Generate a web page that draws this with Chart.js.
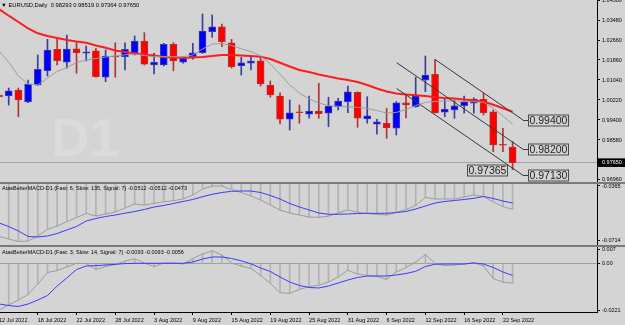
<!DOCTYPE html>
<html>
<head>
<meta charset="utf-8">
<script src="https://cdn.jsdelivr.net/npm/chart.js@4.4.0/dist/chart.umd.min.js"></script>
<style>
  html, body { margin: 0; padding: 0; background: #d4d4d4; }
  #wrap { position: relative; width: 625px; height: 325px; background: #d4d4d4; overflow: hidden; }
  #wrap canvas { position: absolute; left: 0; }
  .sep { position: absolute; left: 0; width: 625px; height: 2px; background: #7a7a7a; }
</style>
</head>
<body>
<div id="wrap">
  <canvas id="price" width="625" height="182" style="top:0"></canvas>
  <div class="sep" style="top:182px"></div>
  <canvas id="macdSlow" width="625" height="61" style="top:184px"></canvas>
  <div class="sep" style="top:245px"></div>
  <canvas id="macdFast" width="625" height="78" style="top:247px"></canvas>
</div>
<script>
// --- DATA (EURUSD daily) ---
const dates = ['12 Jul 2022','13 Jul 2022','14 Jul 2022','15 Jul 2022','18 Jul 2022','19 Jul 2022','20 Jul 2022','21 Jul 2022','22 Jul 2022',
  '25 Jul 2022','26 Jul 2022','27 Jul 2022','28 Jul 2022','29 Jul 2022','1 Aug 2022','2 Aug 2022','3 Aug 2022','4 Aug 2022','5 Aug 2022',
  '8 Aug 2022','9 Aug 2022','10 Aug 2022','11 Aug 2022','12 Aug 2022','15 Aug 2022','16 Aug 2022','17 Aug 2022','18 Aug 2022','19 Aug 2022',
  '22 Aug 2022','23 Aug 2022','24 Aug 2022','25 Aug 2022','26 Aug 2022','29 Aug 2022','30 Aug 2022','31 Aug 2022','1 Sep 2022','2 Sep 2022',
  '5 Sep 2022','6 Sep 2022','7 Sep 2022','8 Sep 2022','9 Sep 2022','12 Sep 2022','13 Sep 2022','14 Sep 2022','15 Sep 2022','16 Sep 2022',
  '19 Sep 2022','20 Sep 2022','21 Sep 2022','22 Sep 2022','23 Sep 2022'];
const dateTicks = [0, 4, 8, 12, 16, 20, 24, 28, 32, 36, 40, 44, 48, 52];

const open = [1.00425,1.00384,1.0063,1.00138,1.00835,1.01421,1.02299,1.01766,1.02323,1.02135,
  1.02241,1.01151,1.02024,1.01995,1.02135,1.02639,1.01655,1.01655,1.02504,1.01766,
  1.01995,1.02159,1.0302,1.03225,1.02569,1.01626,1.01725,1.01831,1.00823,1.00384,
  0.99429,0.99728,0.99634,0.99769,0.99675,0.99945,1.0015,1.00536,0.99441,0.99224,
  0.99265,0.9906,1.00109,0.99945,1.0104,1.01274,0.99716,0.9981,0.99986,1.00085,
  1.00249,0.9974,0.98387,0.98293];
const high = [1.00548,1.00712,1.00712,1.0104,1.02065,1.02709,1.02774,1.02885,1.0261,1.02434,
  1.0234,1.0227,1.02569,1.02569,1.02844,1.02979,1.02135,1.02545,1.02569,1.01995,
  1.02545,1.03746,1.03705,1.03336,1.02709,1.01971,1.01995,1.01995,1.00999,1.00519,
  1.0022,1.00015,1.00384,1.00905,1.00331,1.0029,1.00794,1.0056,1.00355,0.99429,
  0.9988,1.0015,1.00425,1.01151,1.02024,1.01889,1.00249,1.0022,1.00384,1.00314,
  1.00495,0.9981,0.9906,0.98519];
const low = [1.0022,1.00015,0.99535,1.00109,1.00806,1.01204,1.01655,1.0152,1.01315,1.01819,
  1.01151,1.0097,1.01151,1.0145,1.02065,1.01655,1.01286,1.01614,1.01421,1.01725,
  1.01889,1.02135,1.02791,1.02405,1.01532,1.01245,1.0145,1.00794,1.00331,0.99236,
  0.9899,0.99265,0.9947,0.9947,0.99125,0.9981,0.99699,0.99101,0.99265,0.98814,
  0.9865,0.98785,0.99482,0.99921,1.0056,0.99675,0.99535,0.9947,0.99675,0.99675,
  0.99605,0.981,0.981,0.97364];
const close = [1.00343,1.00601,1.0022,1.00876,1.01479,1.0227,1.01831,1.02311,1.02159,1.022,
  1.01175,1.02024,1.01983,1.02299,1.02639,1.01684,1.01766,1.02504,1.01819,1.0193,
  1.02159,1.03049,1.03225,1.0261,1.01585,1.01749,1.01819,1.00876,1.00425,0.99429,
  0.99699,0.99699,0.99769,0.99658,0.99974,1.00179,1.0056,0.9947,0.99576,0.9933,
  0.99084,1.00109,1.00015,1.00384,1.01245,0.99699,0.99839,0.99986,1.0015,1.00261,
  0.99699,0.98375,0.98363,0.9765];

const maRed = [1.03951,1.03676,1.03418,1.03156,1.02955,1.02844,1.02762,1.0268,1.02619,1.02569,
  1.02455,1.0236,1.0225,1.02188,1.02127,1.02086,1.02045,1.01983,1.01963,1.01954,
  1.01963,1.01983,1.02024,1.02065,1.02065,1.02045,1.02024,1.01995,1.01901,1.01749,
  1.01594,1.0145,1.01368,1.01266,1.01184,1.01102,1.0104,1.00958,1.00835,1.00692,
  1.00569,1.00487,1.00446,1.00413,1.00384,1.00331,1.00302,1.00282,1.00245,1.00208,
  1.00159,1.00023,0.9988,0.9974];
const maGray = [1.02229,1.01778,1.01204,1.00876,1.00835,1.01122,1.01389,1.01553,1.01758,1.0186,
  1.01922,1.01983,1.02024,1.02073,1.02106,1.02045,1.01995,1.01995,1.01995,1.01995,
  1.02065,1.02311,1.02516,1.02537,1.02455,1.02319,1.02209,1.02024,1.01696,1.01286,
  1.00835,1.00507,1.00261,1.00097,0.99995,0.99962,0.99941,0.99921,0.99872,0.9979,
  0.99687,0.99708,0.99831,0.99995,1.00118,1.00159,1.0018,1.0018,1.00159,1.0015,
  1.00118,0.99892,0.99564,0.99236];

// AtasBetterMACD (6,135,7): histogram == macd line, plus signal
const macdSlow = [-0.06857,-0.07016,-0.07174,-0.07143,-0.06825,-0.06412,-0.0619,-0.05917,-0.0565,-0.05396,
  -0.05555,-0.05428,-0.05301,-0.05047,-0.04793,-0.04857,-0.04761,-0.04647,-0.04584,-0.04476,
  -0.04222,-0.03841,-0.0365,-0.0365,-0.03872,-0.04063,-0.04285,-0.04539,-0.04857,-0.05174,
  -0.05365,-0.05492,-0.05619,-0.05638,-0.05568,-0.05365,-0.05174,-0.0532,-0.05396,-0.0546,
  -0.05492,-0.05333,-0.05142,-0.04888,-0.04368,-0.04476,-0.04476,-0.04476,-0.04349,-0.04222,
  -0.04317,-0.04666,-0.04965,-0.0512];
const macdSlowSignal = [-0.06,-0.06222,-0.06508,-0.06857,-0.06889,-0.06825,-0.06666,-0.06444,-0.06222,-0.05873,
  -0.05714,-0.05587,-0.05492,-0.05377,-0.05269,-0.05142,-0.04984,-0.04888,-0.04761,-0.04634,
  -0.04507,-0.0433,-0.04177,-0.04063,-0.03987,-0.03968,-0.03968,-0.04063,-0.04253,-0.04476,
  -0.04761,-0.04984,-0.05174,-0.05365,-0.05447,-0.05447,-0.05428,-0.05396,-0.05384,-0.05384,
  -0.05384,-0.05333,-0.05269,-0.05111,-0.0492,-0.0473,-0.04634,-0.04571,-0.04507,-0.04431,
  -0.04317,-0.04444,-0.04603,-0.0473];

// AtasBetterMACD (3,14,7)
const macdFast = [-0.02209,-0.0197,-0.01732,-0.01469,-0.00968,-0.0042,-0.00324,-0.00157,0.00019,0.0001,
  -0.00277,-0.00134,-0.00038,0.00129,0.00234,0.00033,-0.00134,0.00033,0.00043,-0.00014,
  0.00248,0.00463,0.00615,0.00415,0.00033,-0.0011,-0.00229,-0.00563,-0.00944,-0.01383,
  -0.01412,-0.01231,-0.01088,-0.0103,-0.00873,-0.00634,-0.00315,-0.00491,-0.00563,-0.00601,
  -0.00744,-0.00396,-0.00181,0.00081,0.00439,0.0001,-0.00086,-0.00062,-0.00014,0.00043,
  -0.0011,-0.0071,-0.0088,-0.0093];
const macdFastSignal = [-0.01922,-0.01994,-0.02042,-0.01922,-0.01732,-0.01517,-0.01064,-0.00682,-0.00277,-0.0011,
  -0.00091,-0.00062,-0.00029,0.00005,0.00019,0.00019,0.00019,0.00019,0.00019,0.00019,
  0.00081,0.00224,0.0032,0.0032,0.00248,0.00138,-0.00005,-0.00205,-0.00372,-0.00634,
  -0.00873,-0.0104,-0.01135,-0.01159,-0.01064,-0.00921,-0.00778,-0.00658,-0.00587,-0.00587,
  -0.00587,-0.00539,-0.00467,-0.00363,-0.00134,-0.00024,-0.00014,-0.00014,-0.00014,0.00033,
  -0.00014,-0.00181,-0.00396,-0.0056];

// axis labels
const priceTicks = [1.043, 1.0348, 1.0266, 1.0186, 1.0104, 1.0022, 0.994, 0.9858, 0.9765, 0.9696];
const macdSlowTicks = [-0.0365, -0.0714];
const macdFastTicks = [0.007, 0, -0.0221];
const macdFastTickLabels = ['0.007', '0.00', '-0.0221'];

// drawn objects: [bar index, price]
const channelTop = [[45, 1.0188], [54.08, 0.994]];
const channelMid = [[41.04, 1.01749], [54.08, 0.982]];
const channelLow = [[41.04, 1.00692], [54.08, 0.9713]];
const rightTags = [0.994, 0.982, 0.9713];
const lowTag = 0.97365;

// --- VIEW ---
const FONT = '"Liberation Sans", Arial, sans-serif';
const xMin = 0.103, xMax = 61.71;
const last = close.length - 1;
const lastClose = close[last];
const bull = '#0000ff', bear = '#ff0000', bullEdge = '#3c3ca2', bearEdge = '#b33232';
const isBull = i => i !== undefined && close[i] > open[i];

const pts = arr => arr.map((v, i) => ({ x: i, y: v }));
const seg = line => line.map(([i, p]) => ({ x: i, y: p }));

function lineSet(data, color, width, order) {
    return { type: 'line', data, borderColor: color, borderWidth: width, pointRadius: 0, tension: 0, fill: false, order, clip: 0 };
}

function xScale(show) {
    return {
        type: 'linear', min: xMin, max: xMax, offset: false, display: show,
        grid: { display: show, drawOnChartArea: false, tickLength: 3, color: '#000', offset: false },
        border: { display: show, color: '#000' },
        afterBuildTicks: s => { s.ticks = dateTicks.map(v => ({ value: v })); },
        afterFit: s => { if (show) { s.height = 13; s.paddingLeft = 0; s.paddingRight = 0; } },
        ticks: { autoSkip: false, maxRotation: 0, align: 'start', padding: 2, color: '#000',
                 font: { family: FONT, size: 5.5 }, callback: v => dates[v] }
    };
}

function yScale(min, max, ticks, fmt, gridColor) {
    return {
        position: 'right', min, max, beginAtZero: false,
        grid: { drawOnChartArea: !!gridColor, color: gridColor || '#000', tickColor: '#000', tickLength: 3 },
        border: { display: true, color: '#000' },
        afterBuildTicks: s => { s.ticks = ticks.map(v => ({ value: v })); },
        afterFit: s => { s.width = 28; s.paddingTop = 0; s.paddingBottom = 0; },
        ticks: { autoSkip: false, padding: 2, color: '#000', font: { family: FONT, size: 5.5 }, callback: fmt }
    };
}

const baseOptions = () => ({
    responsive: false, animation: false, devicePixelRatio: 1, events: [],
    layout: { padding: 0, autoPadding: false },
    plugins: { legend: { display: false }, tooltip: { enabled: false } }
});

// --- price window decorations: watermark, header, price tags ---
const priceDecor = {
    id: 'priceDecor',
    beforeDatasetsDraw(chart) {
        const { ctx, chartArea } = chart;
        ctx.save();
        ctx.fillStyle = '#dbdbdb';
        ctx.font = 'bold 53px ' + FONT;
        ctx.fillText('D1', chartArea.left + 51, chartArea.top + 156);
        ctx.restore();
    },
    afterDatasetsDraw(chart) {
        const { ctx, scales: { x, y } } = chart;
        ctx.save();
        ctx.textBaseline = 'middle';
        ctx.lineWidth = 1;
        ctx.font = '10.5px ' + FONT;
        const ends = [channelTop, channelMid, channelLow];
        rightTags.forEach((p, k) => {
            const x0 = Math.round(x.getPixelForValue(ends[k][1][0]));
            const yy = Math.round(y.getPixelForValue(p)) + 0.5;
            const txt = p.toFixed(5);
            const w = Math.ceil(ctx.measureText(txt).width) + 2;
            ctx.strokeStyle = '#3a3a3a';
            ctx.beginPath(); ctx.moveTo(x0, yy); ctx.lineTo(x0 + 5, yy); ctx.stroke();
            ctx.strokeStyle = '#4a4a4a';
            ctx.strokeRect(x0 + 5.5, yy - 5.5, w, 11);
            ctx.fillStyle = '#1c1c1c';
            ctx.fillText(txt, x0 + 6.5, yy + 0.5);
        });
        // tag left of the last low
        const txt = lowTag.toFixed(5);
        const w = Math.ceil(ctx.measureText(txt).width) + 2;
        const xr = Math.round(x.getPixelForValue(last)) - 5.5;
        const yl = Math.round(y.getPixelForValue(lowTag)) + 0.5;
        ctx.strokeStyle = '#4a4a4a';
        ctx.strokeRect(xr - w, yl - 5.5, w, 11);
        ctx.fillStyle = '#1c1c1c';
        ctx.fillText(txt, xr - w + 1, yl + 0.5);

        // header line
        ctx.font = '5.8px ' + FONT;
        ctx.fillStyle = '#000';
        ctx.fillText('\u25BC', 1, 5);
        const ohlc = [open, high, low, close].map(a => a[last].toFixed(5)).join(' ');
        ctx.fillText('EURUSD,Daily  ' + ohlc, 8.5, 5);
        ctx.restore();
    }
};

function titlePlugin(text, y) {
    return {
        id: 'paneTitle',
        afterDraw(chart) {
            const ctx = chart.ctx;
            ctx.save();
            ctx.font = '5.5px ' + FONT;
            ctx.fillStyle = '#000';
            ctx.textBaseline = 'middle';
            ctx.fillText(text, 2, y);
            ctx.restore();
        }
    };
}

// --- main price chart ---
const priceOpts = baseOptions();
priceOpts.scales = {
    x: xScale(false),
    y: yScale(0.96858, 1.0432, priceTicks, v => v.toFixed(5),
        c => (c.tick && c.tick.value === lastClose ? '#a4a4a4' : 'rgba(0,0,0,0)'))
};
Object.assign(priceOpts.scales.y.ticks, {
    showLabelBackdrop: true,
    backdropColor: c => (c.tick && c.tick.value === lastClose ? '#000' : 'rgba(0,0,0,0)'),
    backdropPadding: { left: 4, right: 6, top: 1, bottom: 1 },
    color: c => (c.tick && c.tick.value === lastClose ? '#fff' : '#000')
});

new Chart(document.getElementById('price'), {
    type: 'bar',
    data: {
        datasets: [
            { type: 'bar', data: low.map((l, i) => ({ x: i, y: [l, high[i]] })),
              backgroundColor: c => (isBull(c.dataIndex) ? bullEdge : bearEdge),
              barThickness: 1, grouped: false, order: 3, clip: 0 },
            { type: 'bar', data: open.map((o, i) => ({ x: i, y: [o, close[i]] })),
              backgroundColor: c => (isBull(c.dataIndex) ? bull : bear),
              borderColor: c => (isBull(c.dataIndex) ? bullEdge : bearEdge),
              borderWidth: 1, borderSkipped: false, barThickness: 7, minBarLength: 1, grouped: false, order: 2, clip: 0 },
            lineSet(pts(maGray), '#9c9c9c', 1, 1),
            lineSet(pts(maRed), '#ff1c1c', 2, 1),
            lineSet(seg(channelTop), '#383838', 1, 0),
            lineSet(seg(channelMid), '#383838', 1, 0),
            lineSet(seg(channelLow), '#383838', 1, 0)
        ]
    },
    options: priceOpts,
    plugins: [priceDecor]
});

// --- MACD windows ---
function macdChart(id, hist, signal, yMin, yMax, ticks, fmt, gridColor, showX, title, titleY) {
    const opts = baseOptions();
    opts.scales = { x: xScale(showX), y: yScale(yMin, yMax, ticks, fmt, gridColor) };
    new Chart(document.getElementById(id), {
        type: 'bar',
        data: {
            datasets: [
                { type: 'bar', data: pts(hist), backgroundColor: '#b2b2b2', barThickness: 1, grouped: false, order: 2, clip: 0 },
                lineSet(pts(hist), '#9c9c9c', 1, 1),
                lineSet(pts(signal), '#3a3aff', 1, 0)
            ]
        },
        options: opts,
        plugins: [titlePlugin(title, titleY)]
    });
}

const vals = arr => arr[last].toFixed(4);
macdChart('macdSlow', macdSlow, macdSlowSignal, -0.07397, -0.03523, macdSlowTicks, v => v.toFixed(4), null, false,
    'AtasBetterMACD-D1 (Fast: 6, Slow: 135, Signal: 7) ' + [vals(macdSlow), vals(macdSlow), vals(macdSlowSignal)].join(' '), 4);
macdChart('macdFast', macdFast, macdFastSignal, -0.02304, 0.00797, macdFastTicks, (v, i) => macdFastTickLabels[i],
    c => (c.tick && c.tick.value === 0 ? '#a0a0a0' : 'rgba(0,0,0,0)'), true,
    'AtasBetterMACD-D1 (Fast: 3, Slow: 14, Signal: 7) ' + [vals(macdFast), vals(macdFast), vals(macdFastSignal)].join(' '), 5);
</script>
</body>
</html>
